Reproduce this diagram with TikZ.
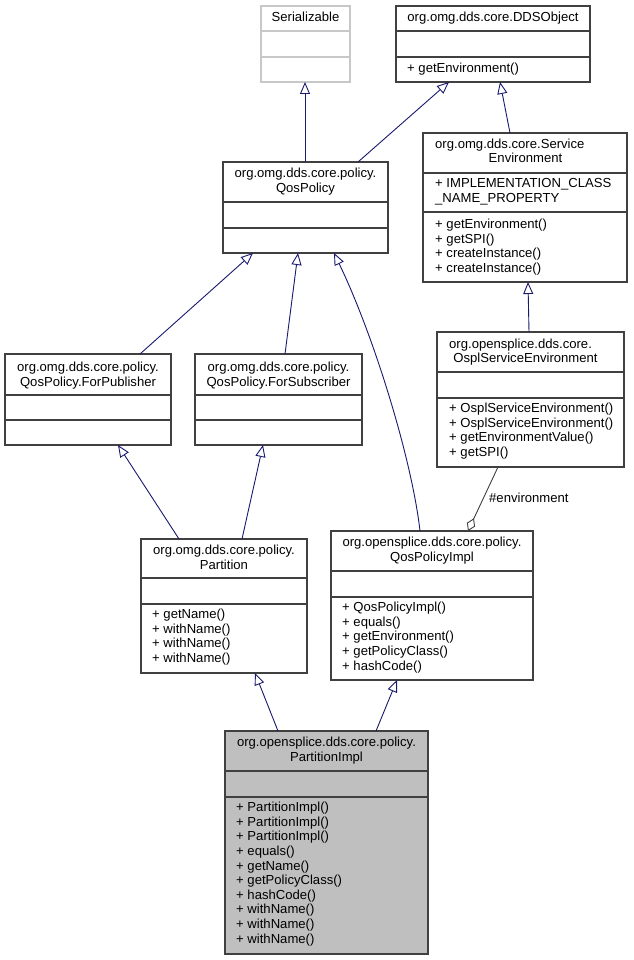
\documentclass[tikz,border=0pt]{standalone}
\usepackage{fontspec}
\setmainfont{Liberation Sans}
\usetikzlibrary{arrows.meta}
\definecolor{edgeblue}{HTML}{191970}
\definecolor{boxline}{HTML}{404040}
\definecolor{implfill}{HTML}{BFBFBF}
\definecolor{lightline}{HTML}{C8C8C8}
\newcommand\umlfont{\fontsize{13.1}{14.6}\selectfont}
\tikzset{
  cls/.style={draw=boxline, line width=1.1pt, fill=white, inner sep=0pt, outer sep=0pt, anchor=north west},
  divider/.style={draw=boxline, line width=1.1pt},
  txtl/.style={anchor=north west, inner sep=0pt, align=left, font=\umlfont, yshift=6.8pt},
  txtc/.style={anchor=north, inner sep=0pt, align=center, font=\umlfont, yshift=6.8pt},
  inh/.style={draw=edgeblue, line width=0.9pt, -{Triangle[open, length=12pt, width=10pt, fill=white]}},
  agg/.style={draw=boxline, line width=0.9pt, -{Diamond[open, length=14pt, width=9pt, fill=white]}},
}
% name, x, y, w, h, divider1 y, divider2 y
\newcommand\umlbox[8][]{%
  \node[cls,#1,minimum width=#5pt,minimum height=#6pt] (#2) at (#3,#4) {};
  \draw[divider,#1] (#2.west |- 0,#7) -- (#2.east |- 0,#7);
  \draw[divider,#1] (#2.west |- 0,#8) -- (#2.east |- 0,#8);
}
\begin{document}
\begin{tikzpicture}[x=1pt,y=-1pt]
\fill[white] (0,0) rectangle (633,960);
\useasboundingbox (0,0) rectangle (633,960);

% ---- class boxes ----
\umlbox[draw=lightline]{ser}{261}{6}{89}{76}{31}{57}
\umlbox{dds}{396}{6}{194}{76}{31}{57}
\umlbox{qp}{223}{162}{165}{91}{202}{228}
\umlbox{se}{423}{133}{204}{149}{173}{212}
\umlbox{fp}{5}{354}{166}{91}{395}{420}
\umlbox{fs}{195}{354}{167}{91}{395}{420}
\umlbox{ose}{437}{332}{187}{135}{372}{398}
\umlbox{pt}{141}{539}{166}{134}{578}{604}
\umlbox{qpi}{331}{531}{202}{149}{571}{597}
\umlbox[fill=implfill]{pi}{225}{731}{203}{223}{771}{797}

% ---- texts ----
\node[txtc] (ser-t) at (305.5,18) {\strut Serializable};

\node[txtc] (dds-t) at (493,18) {\strut org.omg.dds.core.DDSObject};
\node[txtl] (dds-m) at (407,69) {\strut + getEnvironment()};

\node[txtc] (qp-t) at (305.5,174) {\strut org.omg.dds.core.policy.\\QosPolicy};

\node[txtl] (se-t1) at (435,145) {\strut org.omg.dds.core.Service};
\node[txtc] (se-t2) at (525.5,158.5) {\strut Environment};
\node[txtl] (se-a) at (435,184) {\strut + IMPLEMENTATION\_CLASS\\\_NAME\_PROPERTY};
\node[txtl] (se-m) at (435,225) {\strut + getEnvironment()\\+ getSPI()\\+ createInstance()\\+ createInstance()};

\node[txtc] (fp-t) at (88,368) {\strut org.omg.dds.core.policy.\\QosPolicy.ForPublisher};
\node[txtc] (fs-t) at (278.5,368) {\strut org.omg.dds.core.policy.\\QosPolicy.ForSubscriber};

\node[txtl] (ose-t1) at (449,345) {\strut org.opensplice.dds.core.};
\node[txtc] (ose-t2) at (525.5,359) {\strut OsplServiceEnvironment};
\node[txtl] (ose-m) at (449,409) {\strut + OsplServiceEnvironment()\\+ OsplServiceEnvironment()\\+ getEnvironmentValue()\\+ getSPI()};

\node[txtc] (pt-t) at (224,551) {\strut org.omg.dds.core.policy.\\Partition};
\node[txtl] (pt-m) at (152,615) {\strut + getName()\\+ withName()\\+ withName()\\+ withName()};

\node[txtc] (qpi-t) at (432,543) {\strut org.opensplice.dds.core.policy.\\QosPolicyImpl};
\node[txtl] (qpi-m) at (342,608) {\strut + QosPolicyImpl()\\+ equals()\\+ getEnvironment()\\+ getPolicyClass()\\+ hashCode()};

\node[txtc] (pi-t) at (326.5,743) {\strut org.opensplice.dds.core.policy.\\PartitionImpl};
\node[txtl] (pi-m) at (236,808) {\strut + PartitionImpl()\\+ PartitionImpl()\\+ PartitionImpl()\\+ equals()\\+ getName()\\+ getPolicyClass()\\+ hashCode()\\+ withName()\\+ withName()\\+ withName()};

% ---- connectors ----
\draw[inh] ([xshift=82pt]qp.north west) -- ([xshift=44pt]ser.south west);
\draw[inh] ([xshift=135pt]qp.north west) -- ([xshift=53pt]dds.south west);
\draw[inh] ([xshift=87pt]se.north west) -- ([xshift=104pt]dds.south west);
\draw[inh] ([xshift=135pt]fp.north west) -- ([xshift=30pt]qp.south west);
\draw[inh] ([xshift=90pt]fs.north west) -- ([xshift=75pt]qp.south west);
\draw[inh] ([xshift=89pt]qpi.north west) .. controls (412,460) and (374,336) .. ([xshift=111pt]qp.south west);
\draw[inh] ([xshift=92pt]ose.north west) -- ([xshift=105pt]se.south west);
\draw[inh] ([xshift=38pt]pt.north west) -- ([xshift=113pt]fp.south west);
\draw[inh] ([xshift=101pt]pt.north west) -- ([xshift=68pt]fs.south west);
\draw[inh] ([xshift=53pt]pi.north west) -- ([xshift=114pt]pt.south west);
\draw[inh] ([xshift=151pt]pi.north west) -- ([xshift=66pt]qpi.south west);
\draw[agg] ([xshift=61pt]ose.south west) -- ([xshift=137pt]qpi.north west);
\node[txtl] (env-l) at (489,499) {\strut \#environment};
\end{tikzpicture}
\end{document}
